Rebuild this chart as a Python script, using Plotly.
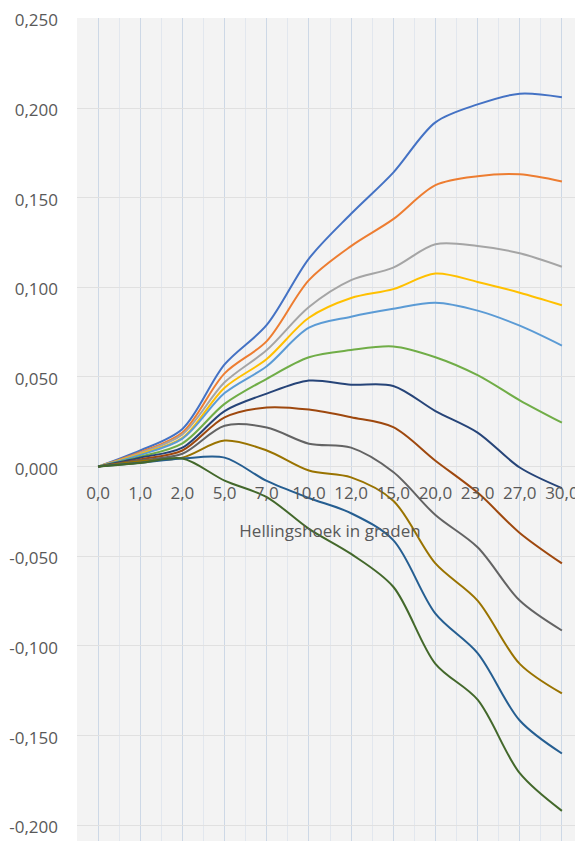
import plotly.graph_objects as go

categories = ["0,0", "1,0", "2,0", "5,0", "7,0", "10,0", "12,0", "15,0", "20,0", "23,0", "27,0", "30,0"]

reeks1 = [0, 0.009, 0.021, 0.057, 0.079, 0.116, 0.141, 0.164, 0.192, 0.202, 0.208, 0.206]
reeks2 = [0, 0.008, 0.019, 0.052, 0.070, 0.104, 0.123, 0.138, 0.157, 0.162, 0.163, 0.159]
reeks3 = [0, 0.0075, 0.018, 0.047, 0.065, 0.089, 0.104, 0.111, 0.124, 0.123, 0.119, 0.1115]
reeks4 = [0, 0.007, 0.016, 0.044, 0.060, 0.083, 0.094, 0.099, 0.1077, 0.103, 0.097, 0.090]
reeks5 = [0, 0.0065, 0.0156, 0.041, 0.056, 0.0775, 0.0836, 0.088, 0.0914, 0.087, 0.0786, 0.0675]
reeks6 = [0, 0.0055, 0.013, 0.035, 0.049, 0.061, 0.065, 0.067, 0.061, 0.051, 0.037, 0.0245]
reeks7 = [0, 0.005, 0.0106, 0.031, 0.0407, 0.048, 0.0457, 0.045, 0.031, 0.019, -0.0005, -0.012]
reeks8 = [0, 0.004, 0.009, 0.0275, 0.033, 0.0318, 0.0275, 0.022, 0.0033, -0.0145, -0.037, -0.054]
reeks9 = [0, 0.0035, 0.0072, 0.0228, 0.0218, 0.0128, 0.0106, -0.003, -0.027, -0.045, -0.0747, -0.0914]
reeks10 = [0, 0.003, 0.005, 0.0145, 0.009, -0.0022, -0.006, -0.019, -0.054, -0.0747, -0.110, -0.1265]
reeks11 = [0, 0.0022, 0.0045, 0.005, -0.008, -0.0175, -0.026, -0.041, -0.082, -0.104, -0.1416, -0.160]
reeks12 = [0, 0.002, 0.0045, -0.0078, -0.017, -0.0347, -0.0487, -0.067, -0.110, -0.130, -0.171, -0.192]

series = [reeks1, reeks2, reeks3, reeks4, reeks5, reeks6,
          reeks7, reeks8, reeks9, reeks10, reeks11, reeks12]
colors = ["#4472C4", "#ED7D31", "#A5A5A5", "#FFC000", "#5B9BD5", "#70AD47",
          "#264478", "#9E480E", "#636363", "#997300", "#255E91", "#43682B"]

y_tickvals = [0.25, 0.2, 0.15, 0.1, 0.05, 0.0, -0.05, -0.1, -0.15, -0.2]
y_ticktext = ["0,250", "0,200", "0,150", "0,100", "0,050", "0,000",
              "-0,050", "-0,100", "-0,150", "-0,200"]

x_title = "Hellingshoek in graden"

ymin, ymax = -0.2088, 0.2502
idx = list(range(len(categories)))

fig = go.Figure()
for i, (vals, col) in enumerate(zip(series, colors)):
    fig.add_trace(go.Scatter(
        x=idx, y=vals, mode="lines", name=f"Reeks{i+1}",
        line=dict(color=col, width=2, shape="spline", smoothing=0.9),
        showlegend=False,
    ))

font_fam = "Open Sans, Calibri, sans-serif"
tick_color = "#595959"

# the page body has an 8px default margin, so the figure is offset by 8px
fig.update_layout(
    width=575, height=833,
    margin=dict(l=69, r=0, t=10, b=0),
    paper_bgcolor="white",
    plot_bgcolor="#f3f3f3",
    font=dict(family=font_fam, color=tick_color),
    xaxis=dict(
        range=[-0.5, 11.5],
        tickmode="array", tickvals=idx, ticktext=categories,
        tickfont=dict(size=17, color=tick_color),
        showgrid=True, gridcolor="#cdd8e6", gridwidth=1.2,
        minor=dict(tickmode="array", tickvals=[i + 0.5 for i in range(-1, 12)],
                   showgrid=True, gridcolor="#e2e7ee", gridwidth=1),
        zeroline=False, showline=False,
        anchor="free", position=(0 - ymin) / (ymax - ymin),
        ticks="", ticklabelstandoff=14, ticklabeloverflow="allow",
        automargin=False,
        title=dict(text=x_title, font=dict(size=17, color=tick_color), standoff=22),
    ),
    yaxis=dict(
        range=[ymin, ymax],
        tickmode="array", tickvals=y_tickvals, ticktext=y_ticktext,
        tickfont=dict(size=17, color=tick_color),
        showgrid=True, gridcolor="#e0e0e0", gridwidth=1,
        zeroline=False, showline=False,
        ticks="", ticklabelstandoff=18, ticklabeloverflow="allow",
        ticklabelshift=2,
        automargin=False,
    ),
)

fig.write_html("out.html")
